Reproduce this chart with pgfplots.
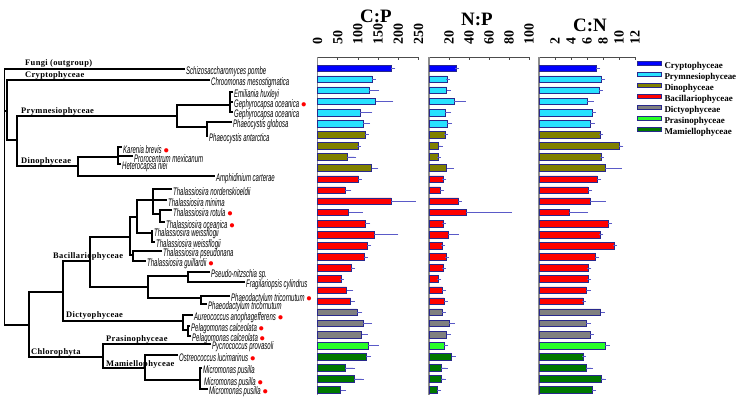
\documentclass[border=0pt]{standalone}
\usepackage{pgfplots}
\pgfplotsset{compat=1.18}
\usepackage{pgfplotstable}
\usepackage{fontspec}
\setmainfont{Liberation Serif}
\newfontfamily\spfont[FakeStretch=0.55]{Liberation Sans}
\newfontfamily\grpfont[LetterSpace=4]{Liberation Serif}

\definecolor{crypto}{RGB}{0,0,255}
\definecolor{prym}{RGB}{40,225,255}
\definecolor{dino}{RGB}{128,128,0}
\definecolor{bacil}{RGB}{255,0,0}
\definecolor{dicty}{RGB}{128,128,128}
\definecolor{prasi}{RGB}{40,255,40}
\definecolor{mamie}{RGB}{0,120,0}
\definecolor{edge}{RGB}{40,40,140}
\definecolor{errc}{RGB}{90,90,200}

% one row per bar, top to bottom
\pgfplotstableread{
idx cp  cpe np   npe cn   cne
1   183 5   27   0.8 7.2  0.2
2   136 3   18   0.7 7.8  0.2
3   127 21  17.5 2.5 7.5  0.2
4   144 39  25   9.5 6.0  0.6
5   106 25  16   4   6.7  0.2
6   112 13  18   3   6.4  0.3
7   119 3   16   1   7.6  0.2
8   100 2   9.5  2   10.0 0.3
9   73  18  9    0.7 7.75 0.1
10  134 12  17.5 5   8.3  1.8
11  102 2   14.5 0.7 7.3  0.2
12  68  11  11   2   6.1  0.3
13  183 55  29.5 1   6.4  1.7
14  77  30  37   44  3.8  2.1
15  118 8   14   0.7 8.6  0.3
16  140 55  19   8.5 7.6  0.2
17  122 6   13.5 0.7 9.4  0.1
18  116 3   17   0.7 7.0  0.2
19  83  5   14   0.7 6.2  0.1
20  58  2   9.5  0.7 6.1  0.1
21  72  12  13   2   5.9  0.3
22  82  6   15   1.5 5.5  0.1
23  98  8   13   1.5 7.7  0.25
24  113 17  20   3.5 5.9  0.3
25  109 11  17.5 2   6.4  0.2
26  125 22  15   2   8.3  0.3
27  120 8   22.5 2   5.5  0.1
28  68  20  12   4.5 5.9  0.6
29  91  18  12   3   7.75 0.4
30  57  9   8.5  1.5 6.7  0.2
}\ratios

\newcommand\bars[5]{%
  \addplot[xbar, bar width=0.6, fill=#1, draw=edge, line width=0.5pt, forget plot,
    restrict y to domain=#2:#3,
    error bars/.cd, x dir=plus, x explicit,
    error bar style={errc, line width=0.5pt},
    error mark options={errc, mark size=2bp, line width=0.5pt}]
  table[x=#4, y=idx, x error=#5] {\ratios};}
\newcommand\panel[2]{%
  \bars{crypto}{0.5}{1.5}{#1}{#2}
  \bars{prym}{1.5}{6.5}{#1}{#2}
  \bars{dino}{6.5}{10.5}{#1}{#2}
  \bars{bacil}{10.5}{22.5}{#1}{#2}
  \bars{dicty}{22.5}{25.5}{#1}{#2}
  \bars{prasi}{25.5}{26.5}{#1}{#2}
  \bars{mamie}{26.5}{30.5}{#1}{#2}}
\newcommand\legsw[2]{%
  \addlegendimage{legend image code/.code={\draw[fill=#1,draw=edge,line width=0.5pt] (0bp,1.2bp) rectangle (24bp,5.2bp);}}
  \addlegendentry{#2}}

\newcommand\leaf[3]{\node[anchor=west, inner sep=0pt, xshift=1bp, yshift=-2.5bp,
  font=\spfont\itshape\fontsize{11}{11}\selectfont] at (axis cs:#1,#2) {#3};}
\newcommand\grp[3]{\node[anchor=base west, inner sep=0pt,
  font=\grpfont\bfseries\fontsize{8.5}{9}\selectfont] at (axis cs:#1,#2) {#3};}
\newcommand\rd{\,\textcolor{red}{$\bullet$}}

\pgfplotsset{panel/.style={
  scale only axis, height=338bp, anchor=north west,
  y dir=reverse, ymin=0, ymax=30.45, ytick=\empty, xmin=0,
  axis x line*=top, axis y line*=left,
  x axis line style={black!70, line width=0.5pt, -},
  y axis line style={black!45, line width=1.3pt, -},
  tick align=inside, major tick length=3bp, tick style={black!70, line width=0.5pt},
  xticklabel style={rotate=90, anchor=west, inner sep=0pt,
    font=\bfseries\fontsize{14}{15}\selectfont},
  xticklabel shift=12bp,
  clip=false}}

\begin{document}
\begin{tikzpicture}
\path[use as bounding box] (0,0) rectangle (743bp,-400bp);

% tree
\begin{axis}[at={(0bp,0bp)}, anchor=north west, scale only axis,
  width=315bp, height=400bp, xmin=0, xmax=315, ymin=0, ymax=400,
  y dir=reverse, hide axis, clip=false]
\addplot[black, line width=1.1pt, unbounded coords=jump, mark=none] coordinates {
 (185,69) (4.5,69) (4.5,325) (29,325) (nan,nan)
 (4.5,111) (7,111) (nan,nan)
 (210,80) (7,80) (7,140) (17,140) (nan,nan)
 (177,116) (17,116) (17,166) (78,166) (nan,nan)
 (230,105) (177,105) (177,127) (207,127) (nan,nan)
 (233,92) (230,92) (230,112) (233,112) (nan,nan)
 (230,102) (233,102) (nan,nan)
 (232,122) (207,122) (207,136) (208,136) (nan,nan)
 (118,157) (78,157) (78,176) (215,176) (nan,nan)
 (122,147) (118,147) (118,164) (121,164) (nan,nan)
 (118,156) (133,156) (nan,nan)
 (63,292) (29,292) (29,357) (103,357) (nan,nan)
 (90,261) (63,261) (63,321) (183,321) (nan,nan)
 (130,237) (90,237) (90,287) (148,287) (nan,nan)
 (137,217) (130,217) (130,255) (133,255) (nan,nan)
 (153,200) (137,200) (137,233) (152,233) (nan,nan)
 (172,189) (153,189) (153,214) (160,214) (nan,nan)
 (153,200) (167,200) (nan,nan)
 (172,210) (160,210) (160,222) (165,222) (nan,nan)
 (153,231) (152,231) (152,242) (155,242) (nan,nan)
 (162,251) (133,251) (133,261) (146,261) (nan,nan)
 (188,276) (148,276) (148,298) (201,298) (nan,nan)
 (210,272) (188,272) (188,282) (245,282) (nan,nan)
 (230,296) (201,296) (201,304) (207,304) (nan,nan)
 (193,315) (183,315) (183,330) (188,330) (nan,nan)
 (190,326) (188,326) (188,336) (191,336) (nan,nan)
 (211,344) (103,344) (103,368) (145,368) (nan,nan)
 (178,355) (145,355) (145,380) (200,380) (nan,nan)
 (202,368) (200,368) (200,389) (208,389)
};
\leaf{185}{69}{Schizosaccharomyces pombe}
\leaf{210}{80}{Chroomonas mesostigmatica}
\leaf{233}{92}{Emiliania huxleyi}
\leaf{233}{102}{Gephyrocapsa oceanica\rd}
\leaf{233}{112}{Gephyrocapsa oceanica}
\leaf{232}{122}{Phaeocystis globosa}
\leaf{208}{136}{Phaeocystis antarctica}
\leaf{122}{147}{Karenia brevis\rd}
\leaf{133}{156}{Prorocentrum mexicanum}
\leaf{121}{164}{Heterocapsa niei}
\leaf{215}{176}{Amphidinium carterae}
\leaf{172}{189}{Thalassiosira nordenskioeldii}
\leaf{167}{200}{Thalassiosira minima}
\leaf{172}{210}{Thalassiosira rotula\rd}
\leaf{165}{222}{Thalassiosira oceanica\rd}
\leaf{153}{231}{Thalassiosira weissflogii}
\leaf{155}{242}{Thalassiosira weissflogii}
\leaf{162}{251}{Thalassiosira pseudonana}
\leaf{146}{261}{Thalassiosira guillardii\rd}
\leaf{210}{272}{Pseudo-nitzschia sp.}
\leaf{245}{282}{Fragilariopsis cylindrus}
\leaf{230}{296}{Phaeodactylum tricornutum\rd}
\leaf{207}{304}{Phaeodactylum tricornutum}
\leaf{193}{315}{Aureococcus anophagefferens\rd}
\leaf{190}{326}{Pelagomonas calceolata\rd}
\leaf{191}{336}{Pelagomonas calceolata\rd}
\leaf{211}{344}{Pycnococcus provasoli}
\leaf{178}{355}{Ostreococcus lucimarinus\rd}
\leaf{202}{368}{Micromonas pusilla}
\leaf{203}{380}{Micromonas pusilla\rd}
\leaf{208}{389}{Micromonas pusilla\rd}
\grp{25}{65}{Fungi (outgroup)}
\grp{25}{77}{Cryptophyceae}
\grp{21}{113}{Prymnesiophyceae}
\grp{21}{163}{Dinophyceae}
\grp{53}{258}{Bacillariophyceae}
\grp{66}{317}{Dictyophyceae}
\grp{31}{354}{Chlorophyta}
\grp{106}{341}{Prasinophyceae}
\grp{106}{366}{Mamiellophyceae}
\end{axis}

% C:P
\begin{axis}[panel, at={(317.5bp,-57bp)}, width=101bp, xmax=250,
  xtick={0,50,...,250}, xticklabels={0,50,100,150,200,250}]
\panel{cp}{cpe}
\end{axis}

% N:P
\begin{axis}[panel, at={(429bp,-57bp)}, width=100bp, xmax=100,
  xtick={0,20,...,100}, xticklabels={,20,40,60,80,100}]
\panel{np}{npe}
\end{axis}

% C:N
\begin{axis}[panel, at={(539bp,-57bp)}, width=96bp, xmax=12,
  xtick={0,2,...,12}, xticklabels={,2,4,6,8,10,12},
  legend style={draw=none, fill=none, inner sep=0pt, outer sep=0pt,
    at={(1,1)}, anchor=north west, xshift=2bp, yshift=-4bp,
    column sep=3bp, row sep=0pt,
    nodes={inner sep=0pt, text height=7.5bp, text depth=3.5bp,
      font=\bfseries\fontsize{9}{10}\selectfont}},
  legend cell align=left]
\panel{cn}{cne}
\legsw{crypto}{Cryptophyceae}
\legsw{prym}{Prymnesiophyceae}
\legsw{dino}{Dinophyceae}
\legsw{bacil}{Bacillariophyceae}
\legsw{dicty}{Dictyophyceae}
\legsw{prasi}{Prasinophyceae}
\legsw{mamie}{Mamiellophyceae}
\end{axis}

\node[anchor=base, inner sep=0pt, font=\bfseries\fontsize{19}{20}\selectfont] at (376bp,-22bp) {C:P};
\node[anchor=base, inner sep=0pt, font=\bfseries\fontsize{19}{20}\selectfont] at (477bp,-25bp) {N:P};
\node[anchor=base, inner sep=0pt, font=\bfseries\fontsize{19}{20}\selectfont] at (590bp,-31bp) {C:N};
\end{tikzpicture}
\end{document}
